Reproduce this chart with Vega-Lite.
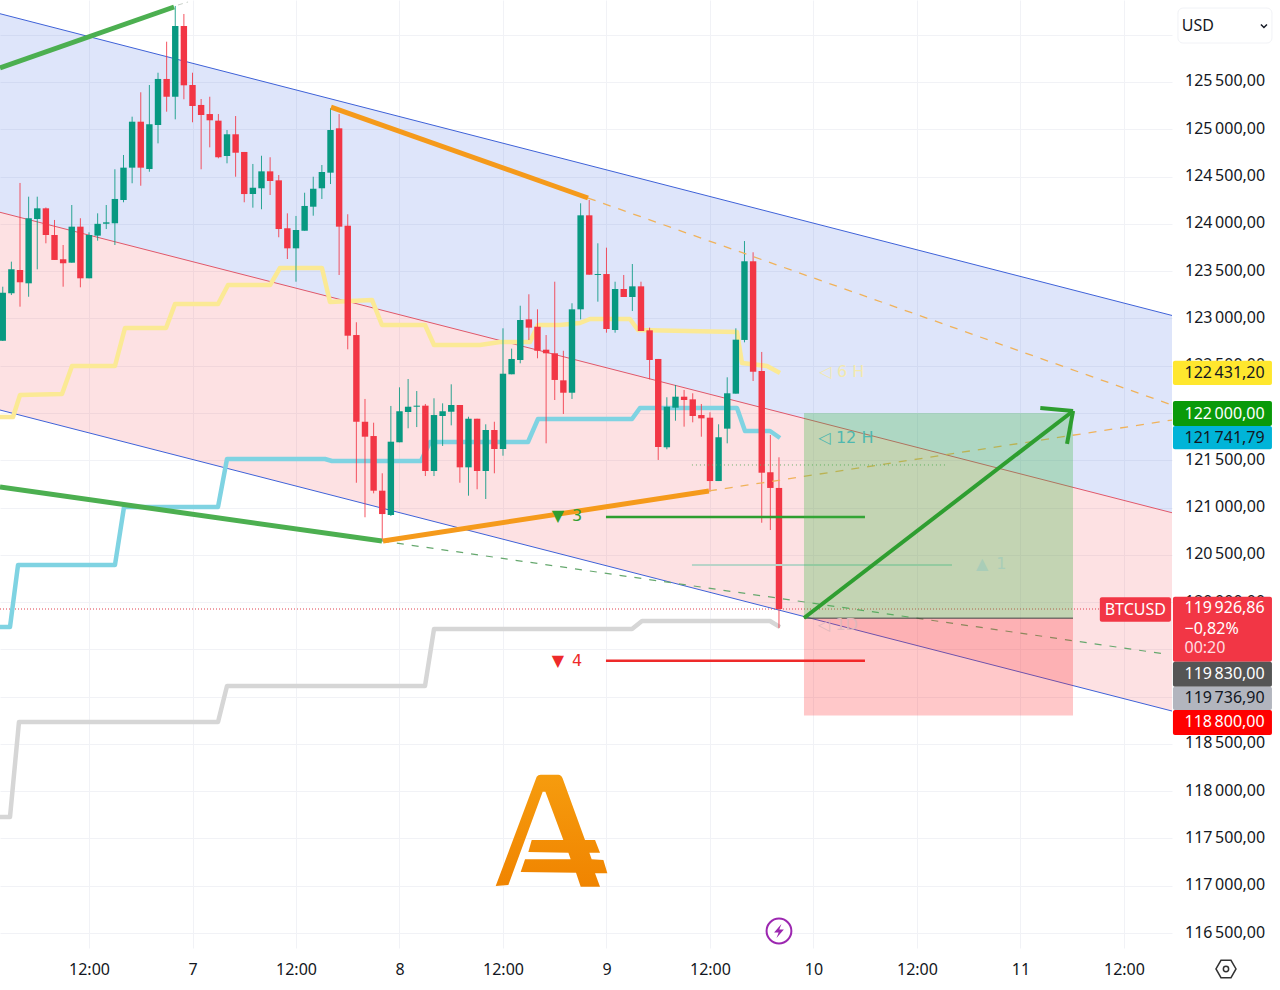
{
"$schema":"https://vega.github.io/schema/vega-lite/v6.json",
"width":1172,"height":948,
"autosize":{"type":"none"},
"padding":{"left":0,"top":0,"right":108,"bottom":42},
"background":"#ffffff",
"config":{"view":{"stroke":null},"font":"Noto Sans","text":{"font":"Noto Sans"}},
"datasets":{
"candles":[
{"hour":-22,"o":122764,"hi":123335,"lo":122761,"c":123272},
{"hour":-21,"o":123265,"hi":123600,"lo":123247,"c":123519},
{"hour":-20,"o":123512,"hi":124432,"lo":123124,"c":123382},
{"hour":-19,"o":123371,"hi":124287,"lo":123229,"c":124059},
{"hour":-18,"o":124051,"hi":124287,"lo":123519,"c":124164},
{"hour":-17,"o":124164,"hi":124173,"lo":123794,"c":123882},
{"hour":-16,"o":123882,"hi":124041,"lo":123618,"c":123618},
{"hour":-15,"o":123625,"hi":123776,"lo":123335,"c":123583},
{"hour":-14,"o":123589,"hi":124199,"lo":123589,"c":123970},
{"hour":-13,"o":123970,"hi":124059,"lo":123329,"c":123424},
{"hour":-12,"o":123424,"hi":123910,"lo":123424,"c":123882},
{"hour":-11,"o":123875,"hi":124111,"lo":123822,"c":124000},
{"hour":-10,"o":124001,"hi":124199,"lo":123945,"c":124016},
{"hour":-9,"o":124006,"hi":124577,"lo":123776,"c":124263},
{"hour":-8,"o":124252,"hi":124728,"lo":124228,"c":124594},
{"hour":-7,"o":124594,"hi":125133,"lo":124429,"c":125080},
{"hour":-6,"o":125080,"hi":125391,"lo":124403,"c":124594},
{"hour":-5,"o":124580,"hi":125468,"lo":124551,"c":125053},
{"hour":-4,"o":125045,"hi":125598,"lo":124851,"c":125532},
{"hour":-3,"o":125532,"hi":125926,"lo":125186,"c":125344},
{"hour":-2,"o":125344,"hi":126304,"lo":125105,"c":126092},
{"hour":-1,"o":126092,"hi":126219,"lo":125317,"c":125465},
{"hour":0,"o":125468,"hi":125598,"lo":125074,"c":125246},
{"hour":1,"o":125257,"hi":125320,"lo":124577,"c":125151},
{"hour":2,"o":125161,"hi":125344,"lo":124809,"c":125095},
{"hour":3,"o":125091,"hi":125161,"lo":124693,"c":124704},
{"hour":4,"o":124717,"hi":124992,"lo":124640,"c":124947},
{"hour":5,"o":124947,"hi":125140,"lo":124498,"c":124752},
{"hour":6,"o":124760,"hi":124760,"lo":124228,"c":124315},
{"hour":7,"o":124315,"hi":124633,"lo":124171,"c":124382},
{"hour":8,"o":124376,"hi":124720,"lo":124154,"c":124555},
{"hour":9,"o":124555,"hi":124704,"lo":124305,"c":124453},
{"hour":10,"o":124460,"hi":124516,"lo":123858,"c":123945},
{"hour":11,"o":123953,"hi":124111,"lo":123628,"c":123741},
{"hour":12,"o":123741,"hi":124083,"lo":123388,"c":123935},
{"hour":13,"o":123927,"hi":124329,"lo":123927,"c":124189},
{"hour":14,"o":124181,"hi":124498,"lo":124086,"c":124371},
{"hour":15,"o":124376,"hi":124622,"lo":124263,"c":124548},
{"hour":16,"o":124541,"hi":125222,"lo":124421,"c":124992},
{"hour":17,"o":125010,"hi":125161,"lo":123459,"c":123970},
{"hour":18,"o":123980,"hi":124101,"lo":122673,"c":122817},
{"hour":19,"o":122824,"hi":122959,"lo":121262,"c":121907},
{"hour":20,"o":121907,"hi":122148,"lo":120897,"c":121749},
{"hour":21,"o":121756,"hi":121897,"lo":121150,"c":121178},
{"hour":22,"o":121178,"hi":121362,"lo":120646,"c":120931},
{"hour":23,"o":120921,"hi":122074,"lo":120910,"c":121696},
{"hour":24,"o":121690,"hi":122271,"lo":121690,"c":122018},
{"hour":25,"o":122010,"hi":122359,"lo":121838,"c":122066},
{"hour":26,"o":122066,"hi":122232,"lo":121851,"c":122077},
{"hour":27,"o":122077,"hi":122095,"lo":121333,"c":121386},
{"hour":28,"o":121386,"hi":122155,"lo":121333,"c":121978},
{"hour":29,"o":121968,"hi":122102,"lo":121651,"c":122018},
{"hour":30,"o":122013,"hi":122303,"lo":121869,"c":122084},
{"hour":31,"o":122084,"hi":122084,"lo":121262,"c":121425},
{"hour":32,"o":121425,"hi":121960,"lo":121125,"c":121939},
{"hour":33,"o":121939,"hi":121939,"lo":121193,"c":121386},
{"hour":34,"o":121386,"hi":121880,"lo":121090,"c":121820},
{"hour":35,"o":121820,"hi":121907,"lo":121362,"c":121619},
{"hour":36,"o":121619,"hi":122895,"lo":121548,"c":122415},
{"hour":37,"o":122409,"hi":122680,"lo":122409,"c":122571},
{"hour":38,"o":122560,"hi":123134,"lo":122525,"c":122983},
{"hour":39,"o":122990,"hi":123255,"lo":122771,"c":122902},
{"hour":40,"o":122912,"hi":123096,"lo":122578,"c":122658},
{"hour":41,"o":122669,"hi":122824,"lo":121679,"c":122631},
{"hour":42,"o":122631,"hi":123388,"lo":122137,"c":122349},
{"hour":43,"o":122345,"hi":122658,"lo":121989,"c":122214},
{"hour":44,"o":122214,"hi":123160,"lo":122148,"c":123096},
{"hour":45,"o":123096,"hi":124217,"lo":122990,"c":124090},
{"hour":46,"o":124090,"hi":124252,"lo":123462,"c":123462},
{"hour":47,"o":123459,"hi":123794,"lo":123177,"c":123469},
{"hour":48,"o":123469,"hi":123748,"lo":122849,"c":122888},
{"hour":49,"o":122877,"hi":123388,"lo":122849,"c":123311},
{"hour":50,"o":123311,"hi":123459,"lo":123226,"c":123226},
{"hour":51,"o":123226,"hi":123575,"lo":123078,"c":123339},
{"hour":52,"o":123339,"hi":123388,"lo":122867,"c":122867},
{"hour":53,"o":122874,"hi":122902,"lo":122356,"c":122560},
{"hour":54,"o":122571,"hi":122571,"lo":121503,"c":121640},
{"hour":55,"o":121637,"hi":122166,"lo":121616,"c":122066},
{"hour":56,"o":122056,"hi":122296,"lo":121918,"c":122172},
{"hour":57,"o":122172,"hi":122243,"lo":121855,"c":122137},
{"hour":58,"o":122144,"hi":122208,"lo":121901,"c":121968},
{"hour":59,"o":121978,"hi":122095,"lo":121749,"c":121943},
{"hour":60,"o":121950,"hi":122007,"lo":121167,"c":121280},
{"hour":61,"o":121280,"hi":121880,"lo":121280,"c":121743},
{"hour":62,"o":121834,"hi":122377,"lo":121679,"c":122208},
{"hour":63,"o":122204,"hi":122895,"lo":122204,"c":122775},
{"hour":64,"o":122772,"hi":123818,"lo":122747,"c":123604},
{"hour":65,"o":123604,"hi":123699,"lo":122338,"c":122436},
{"hour":66,"o":122444,"hi":122645,"lo":120839,"c":121368},
{"hour":67,"o":121373,"hi":121767,"lo":120762,"c":121207},
{"hour":68,"o":121207,"hi":121531,"lo":119726,"c":119926.86}
],
"channel":[
{"hour":-22.32,"upper":126222,"mid":124122,"lower":122031},
{"hour":113.57,"upper":123031,"mid":120945,"lower":118848}
],
"ma6h":[
{"hour":-22.32,"price":121957},{"hour":-20.81,"price":121957},{"hour":-20,"price":122190},{"hour":-15.13,"price":122200},{"hour":-13.97,"price":122497},{"hour":-8.99,"price":122497},{"hour":-7.83,"price":122898},{"hour":-3.07,"price":122898},{"hour":-2.03,"price":123152},{"hour":2.96,"price":123152},{"hour":4.12,"price":123353},{"hour":8.99,"price":123353},{"hour":10.14,"price":123533},{"hour":15.01,"price":123533},{"hour":15.94,"price":123173},{"hour":20.81,"price":123195},{"hour":21.97,"price":122930},{"hour":26.96,"price":122930},{"hour":28,"price":122719},{"hour":33.33,"price":122719},{"hour":35.65,"price":122750},{"hour":39.13,"price":122750},{"hour":40.06,"price":122930},{"hour":42.61,"price":122930},{"hour":44.93,"price":122951},{"hour":46.09,"price":122994},{"hour":50.72,"price":122994},{"hour":51.65,"price":122877},{"hour":63.13,"price":122856},{"hour":63.71,"price":122528},{"hour":66.61,"price":122497},{"hour":68.12,"price":122423}
],
"ma12h":[
{"hour":-22.32,"price":119736},{"hour":-21.16,"price":119736},{"hour":-20.23,"price":120392},{"hour":-8.99,"price":120392},{"hour":-7.94,"price":121006},{"hour":2.96,"price":121006},{"hour":4,"price":121513},{"hour":15.36,"price":121513},{"hour":16.17,"price":121492},{"hour":26.49,"price":121492},{"hour":27.54,"price":121693},{"hour":38.9,"price":121693},{"hour":40.06,"price":121936},{"hour":50.96,"price":121936},{"hour":51.88,"price":122052},{"hour":63.13,"price":122052},{"hour":64.06,"price":121809},{"hour":66.96,"price":121809},{"hour":68.12,"price":121735}
],
"ma1d":[
{"hour":-22.32,"price":117727},{"hour":-21.16,"price":117727},{"hour":-20.12,"price":118732},{"hour":2.96,"price":118732},{"hour":4,"price":119113},{"hour":26.96,"price":119113},{"hour":28,"price":119715},{"hour":50.96,"price":119715},{"hour":52.12,"price":119800},{"hour":66.96,"price":119800},{"hour":68.12,"price":119736}
]
},
"encoding":{
"x":{"field":"hour","type":"quantitative","title":null,
"scale":{"domain":[-22.32,113.57],"nice":false,"zero":false,"padding":0},
"axis":{"values":[-12,0,12,24,36,48,60,72,84,96,108],"labelExpr":"datum.value%24==0 ? ''+(7+datum.value/24) : '12:00'","ticks":false,"domain":false,"grid":true,"gridColor":"#f1f2f6","labelFontSize":16,"labelColor":"#131722","labelPadding":13,"labelFont":"Noto Sans","labelFlush":false,"labelOverlap":false}},
"y":{"field":"price","type":"quantitative","title":null,
"scale":{"domain":[116342,126367],"nice":false,"zero":false},
"axis":{"orient":"right","values":[116500,117000,117500,118000,118500,119000,119500,120000,120500,121000,121500,122000,122500,123000,123500,124000,124500,125000,125500,126000],"labelExpr":"substring(format(datum.value,'.2f'),0,3)+'\u2009'+replace(substring(format(datum.value,'.2f'),3),'.',',')","ticks":false,"domain":false,"grid":true,"gridColor":"#f1f2f6","labelFontSize":16,"labelColor":"#131722","labelPadding":12.5,"labelOffset":-1,"labelFont":"Noto Sans","labelOverlap":false}}
},
"layer":[
{"data":{"name":"channel"},"mark":{"type":"area","color":"#2450e0","opacity":0.15},"encoding":{"y":{"field":"upper","type":"quantitative","title":null,"axis":{"orient":"right"}},"y2":{"field":"mid"}}},
{"data":{"name":"channel"},"mark":{"type":"area","color":"#f23645","opacity":0.15},"encoding":{"y":{"field":"mid","type":"quantitative","title":null,"axis":{"orient":"right"}},"y2":{"field":"lower"}}},
{"data":{"name":"channel"},"mark":{"type":"line","color":"#3f62d8","strokeWidth":1},"encoding":{"y":{"field":"upper","type":"quantitative","title":null,"axis":{"orient":"right"}}}},
{"data":{"name":"channel"},"mark":{"type":"line","color":"#e0586a","strokeWidth":1},"encoding":{"y":{"field":"mid","type":"quantitative","title":null,"axis":{"orient":"right"}}}},
{"data":{"name":"channel"},"mark":{"type":"line","color":"#3f62d8","strokeWidth":1},"encoding":{"y":{"field":"lower","type":"quantitative","title":null,"axis":{"orient":"right"}}}},
{"data":{"values":[{"price":119926.86,"hour":-22.32},{"price":119926.86,"hour":105.2}]},"mark":{"type":"line","color":"#e0404f","strokeWidth":1,"strokeDash":[1,2]},"encoding":{}},
{"data":{"name":"ma1d"},"mark":{"type":"line","color":"#d6d6d6","strokeWidth":4.5,"strokeJoin":"round"},"encoding":{}},
{"data":{"name":"ma12h"},"mark":{"type":"line","color":"#7fd3e2","strokeWidth":4.5,"strokeJoin":"round"},"encoding":{}},
{"data":{"name":"ma6h"},"mark":{"type":"line","color":"#fbe995","strokeWidth":4.5,"strokeJoin":"round"},"encoding":{}},
{"data":{"name":"candles"},"mark":{"type":"rule","strokeWidth":1,"opacity":0.85},"encoding":{"y":{"field":"lo","type":"quantitative","title":null,"axis":{"orient":"right"}},"y2":{"field":"hi"},"color":{"condition":{"test":"datum.c>=datum.o","value":"#089981"},"value":"#f23645"}}},
{"data":{"name":"candles"},"mark":{"type":"bar","width":6.4},"encoding":{"y":{"field":"o","type":"quantitative","title":null,"axis":{"orient":"right"}},"y2":{"field":"c"},"color":{"condition":{"test":"datum.c>=datum.o","value":"#089981"},"value":"#f23645"}}},
{"data":{"values":[{"hour":-1.68,"price":126314},{"hour":-0.52,"price":126346}]},"mark":{"type":"line","color":"#c8cfc8","strokeWidth":1,"strokeDash":[5,4]},"encoding":{}},
{"data":{"values":[{"hour":45.86,"price":124273},{"hour":113.57,"price":122084}]},"mark":{"type":"line","color":"#f0b25a","strokeWidth":1.3,"strokeDash":[8,8]},"encoding":{}},
{"data":{"values":[{"hour":59.88,"price":121175},{"hour":113.57,"price":121925}]},"mark":{"type":"line","color":"#f0b25a","strokeWidth":1.3,"strokeDash":[8,8]},"encoding":{}},
{"data":{"values":[{"hour":21.97,"price":120646},{"hour":112.75,"price":119451}]},"mark":{"type":"line","color":"#66a86e","strokeWidth":1.2,"strokeDash":[7,8]},"encoding":{}},
{"data":{"values":[{"hour":-22.32,"price":125648},{"hour":-2.14,"price":126293}]},"mark":{"type":"line","color":"#4caf50","strokeWidth":5},"encoding":{}},
{"data":{"values":[{"hour":-22.32,"price":121217},{"hour":21.97,"price":120646}]},"mark":{"type":"line","color":"#4caf50","strokeWidth":5},"encoding":{}},
{"data":{"values":[{"hour":16.06,"price":125235},{"hour":45.86,"price":124273}]},"mark":{"type":"line","color":"#f59a1b","strokeWidth":5},"encoding":{}},
{"data":{"values":[{"hour":22.09,"price":120646},{"hour":59.88,"price":121175}]},"mark":{"type":"line","color":"#f59a1b","strokeWidth":5},"encoding":{}},
{"data":{"values":[{"hour":47.94,"price":120900},{"hour":77.97,"price":120900}]},"mark":{"type":"line","color":"#2f9e2f","strokeWidth":2.5},"encoding":{}},
{"data":{"values":[{"hour":47.94,"price":119380},{"hour":77.97,"price":119380}]},"mark":{"type":"line","color":"#ee2a2a","strokeWidth":2.5},"encoding":{}},
{"data":{"values":[{"hour":57.91,"price":121450},{"hour":87.59,"price":121450}]},"mark":{"type":"line","color":"#6aae6a","strokeWidth":1,"strokeDash":[1,3]},"encoding":{}},
{"data":{"values":[{"hour":57.91,"price":120392},{"hour":88.06,"price":120392}]},"mark":{"type":"line","color":"#b9d3c8","strokeWidth":2},"encoding":{}},
{"data":{"values":[{"hour":70.9,"hourEnd":102.09,"price":122000,"priceEnd":119830}]},"mark":{"type":"rect","color":"#3fb544","opacity":0.3},"encoding":{"x2":{"field":"hourEnd"},"y2":{"field":"priceEnd"}}},
{"data":{"values":[{"hour":70.9,"hourEnd":102.09,"price":119830,"priceEnd":118800}]},"mark":{"type":"rect","color":"#ff2428","opacity":0.25},"encoding":{"x2":{"field":"hourEnd"},"y2":{"field":"priceEnd"}}},
{"data":{"values":[{"hour":70.9,"price":119830},{"hour":102.09,"price":119830}]},"mark":{"type":"line","color":"#444444","strokeWidth":1},"encoding":{}},
{"data":{"values":[{"hour":70.9,"price":119832},{"hour":102.1,"price":122021}]},"mark":{"type":"line","color":"#2e9e30","strokeWidth":4},"encoding":{}},
{"data":{"values":[{"hour":98.3,"price":122052},{"hour":102.1,"price":122021}]},"mark":{"type":"line","color":"#2e9e30","strokeWidth":4},"encoding":{}},
{"data":{"values":[{"hour":101.4,"price":121672},{"hour":102.1,"price":122021}]},"mark":{"type":"line","color":"#2e9e30","strokeWidth":4},"encoding":{}},
{"data":{"values":[{"hour":43.42,"price":120910,"label":"▼\u20023"}]},"mark":{"type":"text","color":"#2f9e2f","fontSize":16,"font":"DejaVu Sans"},"encoding":{"text":{"field":"label"}}},
{"data":{"values":[{"hour":43.42,"price":119377,"label":"▼\u20024"}]},"mark":{"type":"text","color":"#ee2a2a","fontSize":16,"font":"DejaVu Sans"},"encoding":{"text":{"field":"label"}}},
{"data":{"values":[{"hour":92.6,"price":120403,"label":"▲\u20021"}]},"mark":{"type":"text","color":"#a9cdb8","fontSize":16,"font":"DejaVu Sans"},"encoding":{"text":{"field":"label"}}},
{"data":{"values":[{"hour":75.77,"price":121735,"label":"◁ 12 H"}]},"mark":{"type":"text","color":"#4fb8b0","fontSize":16,"font":"DejaVu Sans"},"encoding":{"text":{"field":"label"}}},
{"data":{"values":[{"hour":75.3,"price":122433,"label":"◁ 6 H"}]},"mark":{"type":"text","color":"#f3e9ad","fontSize":16,"font":"DejaVu Sans"},"encoding":{"text":{"field":"label"}}},
{"data":{"values":[{"hour":74.84,"price":119757,"label":"◁ 1D"}]},"mark":{"type":"text","color":"#e0b8bc","fontSize":16,"font":"DejaVu Sans"},"encoding":{"text":{"field":"label"}}},
{"data":{"values":[{"hour":41.57,"price":117579}]},"mark":{"type":"point","filled":true,"opacity":1,"size":12544,"shape":"M-0.988,0.982L-0.256,-0.97Q-0.23,-1.006,-0.185,-1.006L0.131,-1.006Q0.18,-1.006,0.208,-0.94L0.607,0.161L0.786,0.161L0.875,0.387L0.685,0.387L0.726,0.506L0.935,0.518L1.006,0.756L0.786,0.756L0.875,0.994L0.53,0.994L0.446,0.744L-0.542,0.732L-0.464,0.506L0.351,0.506L0.31,0.387L-0.405,0.375L-0.345,0.161L0.22,0.161L-0.101,-0.702L-0.149,-0.702L-0.762,0.964Z","fill":{"gradient":"linear","x1":0,"y1":0,"x2":0,"y2":1,"stops":[{"offset":0,"color":"#f69c0e"},{"offset":1,"color":"#f08400"}]}},"encoding":{}},
{"data":{"values":[{"hour":68,"price":116522}]},"mark":{"type":"point","shape":"circle","filled":false,"fill":"#ffffff","stroke":"#9c27b0","strokeWidth":2,"size":615,"opacity":1},"encoding":{}},
{"data":{"values":[{"hour":68,"price":116522}]},"mark":{"type":"point","filled":true,"color":"#9c27b0","opacity":1,"size":196,"shape":"M0.35,-1L-0.7,0.2L-0.05,0.2L-0.35,1L0.7,-0.2L0.05,-0.2Z"},"encoding":{}},
{"data":{"values":[{"hour":119.83,"price":116120}]},"mark":{"type":"point","filled":false,"stroke":"#333333","strokeWidth":1.5,"opacity":1,"size":400,"shape":"M-1,0L-0.5,-0.87L0.5,-0.87L1,0L0.5,0.87L-0.5,0.87Z"},"encoding":{}},
{"data":{"values":[{"hour":119.83,"price":116120}]},"mark":{"type":"point","shape":"circle","filled":false,"stroke":"#333333","strokeWidth":1.5,"opacity":1,"size":28},"encoding":{}},
{"data":{"values":[{"hour":105.2,"hourEnd":113.45,"price":120051,"priceEnd":119793}]},"mark":{"type":"rect","color":"#f23645","cornerRadius":2},"encoding":{"x2":{"field":"hourEnd"},"y2":{"field":"priceEnd"}}},
{"data":{"values":[{"hour":109.32,"price":119921,"label":"BTCUSD"}]},"mark":{"type":"text","color":"#ffffff","fontSize":16},"encoding":{"text":{"field":"label"}}},
{"data":{"values":[
{"tag":"6H","hour":113.68,"hourEnd":125.16,"price":122553,"priceEnd":122296},
{"tag":"target","hour":113.68,"hourEnd":125.16,"price":122126,"priceEnd":121862},
{"tag":"12H","hour":113.68,"hourEnd":125.16,"price":121862,"priceEnd":121616},
{"tag":"last","hour":113.68,"hourEnd":125.16,"price":120057,"priceEnd":119369},
{"tag":"entry","hour":113.68,"hourEnd":125.16,"price":119369,"priceEnd":119105},
{"tag":"1D","hour":113.68,"hourEnd":125.16,"price":119105,"priceEnd":118859},
{"tag":"stop","hour":113.68,"hourEnd":125.16,"price":118859,"priceEnd":118594}
]},"mark":{"type":"rect","cornerRadius":2},"encoding":{"x2":{"field":"hourEnd"},"y2":{"field":"priceEnd"},"color":{"field":"tag","type":"nominal","legend":null,"scale":{"domain":["6H","target","12H","last","entry","1D","stop"],"range":["#ffe72e","#0a9a0a","#00b4d8","#f23645","#555555","#b2b5be","#ff0000"]}}}},
{"data":{"values":[
{"tag":"6H","hour":115.02,"price":122425,"label":"122\u2009431,20"},
{"tag":"target","hour":115.02,"price":121994,"label":"122\u2009000,00"},
{"tag":"12H","hour":115.02,"price":121739,"label":"121\u2009741,79"},
{"tag":"last","hour":115.02,"price":119937,"label":"119\u2009926,86"},
{"tag":"last","hour":115.02,"price":119715,"label":"−0,82%"},
{"tag":"timer","hour":115.02,"price":119514,"label":"00:20"},
{"tag":"entry","hour":115.02,"price":119237,"label":"119\u2009830,00"},
{"tag":"1D","hour":115.02,"price":118982,"label":"119\u2009736,90"},
{"tag":"stop","hour":115.02,"price":118727,"label":"118\u2009800,00"}
]},"mark":{"type":"text","align":"left","fontSize":16},"encoding":{"text":{"field":"label"},"color":{"condition":[{"test":"indexof(['6H','12H','1D'],datum.tag)>=0","value":"#131722"},{"test":"datum.tag=='timer'","value":"#ffdde0"}],"value":"#ffffff"}}},
{"data":{"values":[{"hour":114.26,"hourEnd":125.16,"price":126282,"priceEnd":125912}]},"mark":{"type":"rect","fill":"#ffffff","stroke":"#f1f2f6","strokeWidth":1,"cornerRadius":5},"encoding":{"x2":{"field":"hourEnd"},"y2":{"field":"priceEnd"}}},
{"data":{"values":[{"hour":114.7,"price":126092,"label":"USD"}]},"mark":{"type":"text","align":"left","color":"#131722","fontSize":16},"encoding":{"text":{"field":"label"}}},
{"data":{"values":[{"hour":124.23,"price":126092}]},"mark":{"type":"point","filled":false,"stroke":"#131722","strokeWidth":1.5,"opacity":1,"size":36,"shape":"M-1,-0.5L0,0.5L1,-0.5"},"encoding":{}}
]
}
